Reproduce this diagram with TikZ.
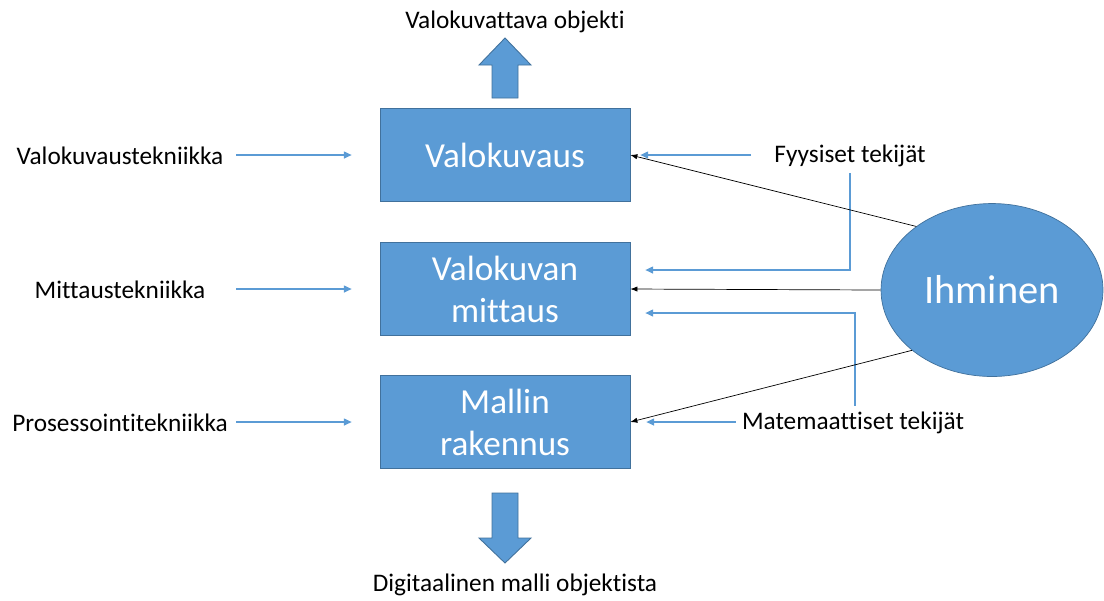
\documentclass[tikz,border=0pt]{standalone}
\usepackage{fontspec}
\setmainfont{Carlito}[Ligatures=NoCommon,RawFeature={-calt}]
\usetikzlibrary{shapes.geometric}
\usetikzlibrary{arrows.meta,calc}

\definecolor{laatikko}{HTML}{5B9BD5}
\definecolor{reuna}{HTML}{41719C}

\begin{document}
\begin{tikzpicture}[x=0.02cm,y=-0.02cm,
	vaihe/.style={draw=reuna,fill=laatikko,text=white,minimum width=5cm,minimum height=1.86cm,align=center,font=\fontsize{20}{24}\selectfont},
	teksti/.style={font=\fontsize{14.4}{17}\selectfont},
	tekniikka/.style={teksti,text width=4.4cm,align=center},
	sininuoli/.style={draw=laatikko,line width=0.8pt,-{Triangle[length=4.5pt,width=4pt]}},
	mustanuoli/.style={draw=black,line width=0.4pt,-{Latex[length=4pt,width=3pt]}},
	paksunuoli/.style={draw=reuna,fill=laatikko,line width=0.5pt}]
	\useasboundingbox (0,0) rectangle (1104,600);

	% vaiheet
	\node[vaihe] (valo) at (505,155) {Valokuvaus};
	\node[vaihe] (mitt) at (505,289) {Valokuvan\\mittaus};
	\node[vaihe] (mall) at (505,422) {Mallin\\rakennus};
	\node[ellipse,draw=reuna,fill=laatikko,text=white,minimum width=4.44cm,minimum height=3.46cm,font=\fontsize{23}{27}\selectfont] (ihm) at (992,290) {Ihminen};

	% tulo ja lahto
	\node[teksti] (kohde) at (515,22) {Valokuvattava objekti};
	\node[teksti] (malli) at (515,585) {Digitaalinen malli objektista};
	\draw[paksunuoli] (492,98) -- (492,65) -- (479,65) -- (505,38) -- (531,65) -- (518,65) -- (518,98) -- cycle;
	\draw[paksunuoli] (492,493) -- (492,538) -- (479,538) -- (505,563) -- (531,538) -- (518,538) -- (518,493) -- cycle;

	% tekniikat
	\node[tekniikka] (vtek) at (120,156) {Valokuvaustekniikka};
	\node[tekniikka] (mtek) at (120,290) {Mittaustekniikka};
	\node[tekniikka] (ptek) at (120,423) {Prosessointitekniikka};
	\draw[sininuoli,shorten >=0.56cm] (vtek.east |- valo) -- (valo.west);
	\draw[sininuoli,shorten >=0.56cm] (mtek.east |- mitt) -- (mitt.west);
	\draw[sininuoli,shorten >=0.56cm] (ptek.east |- mall) -- (mall.west);

	% tekijat
	\node[teksti] (fyys) at (850,156) {Fyysiset tekijät};
	\node[teksti] (mate) at (853,423) {Matemaattiset tekijät};
	\draw[sininuoli,shorten <=0.34cm,shorten >=0.2cm] (fyys.west |- valo) -- (valo.east);
	\draw[sininuoli,shorten >=0.3cm] (fyys.south) |- ([yshift=0.38cm]mitt.east);
	\draw[sininuoli,shorten >=0.32cm] (mate.west |- mall) -- (mall.east);
	\draw[sininuoli,shorten >=0.3cm] ([xshift=0.04cm]mate.north) |- ([yshift=-0.48cm]mitt.east);

	% ihminen
	\draw[mustanuoli] (ihm.140) -- (valo.east);
	\draw[mustanuoli] (ihm.180) -- (mitt.east);
	\draw[mustanuoli] (ihm.217) -- (mall.east);
\end{tikzpicture}
\end{document}
